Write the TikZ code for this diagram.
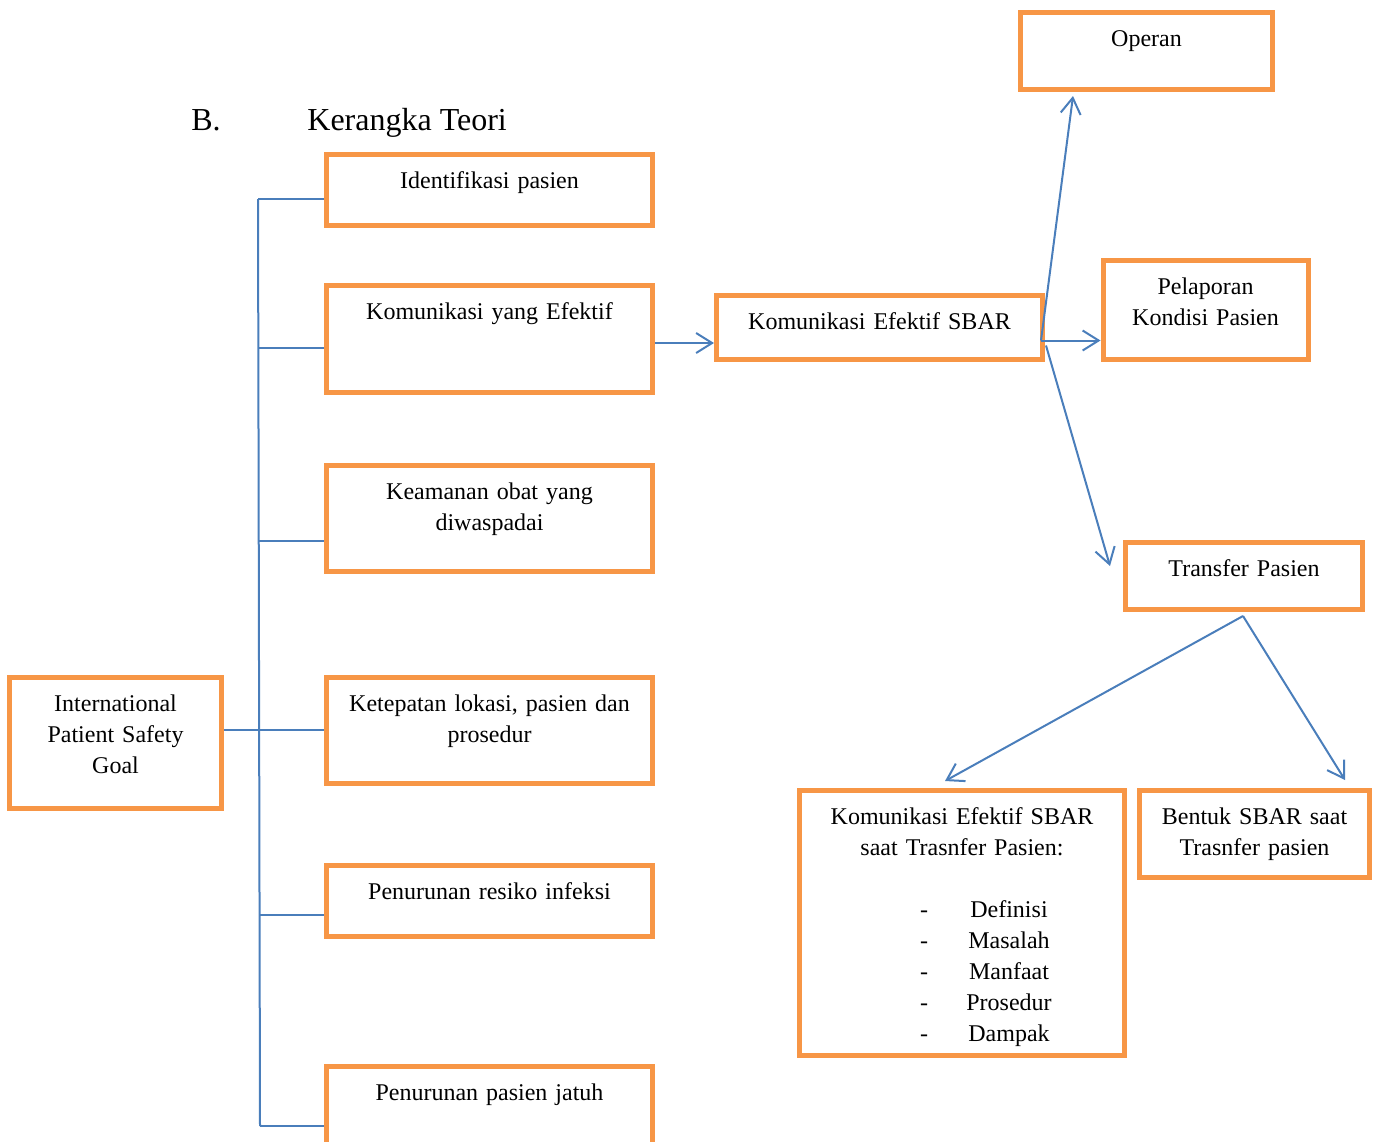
\documentclass[tikz,border=0pt]{standalone}
\usepackage{fontspec}
\setmainfont{Liberation Serif}
\usetikzlibrary{%
  arrows.meta,%
  calc,%
  positioning%
}
\definecolor{boxorange}{HTML}{F79646}
\definecolor{linkblue}{HTML}{4A7EBB}
\newcommand{\sbaritem}[1]{\makebox[0pt]{\hspace*{-38pt}-}\makebox[0pt]{\hspace*{47pt}#1}}

\begin{document}
\begin{tikzpicture}[x=0.5pt,y=-0.5pt]
       \tikzset{box/.style={rectangle, draw=boxorange, line width=2.5pt, inner sep=0pt,
                align=center, text height=17pt, anchor=north,
                font=\fontsize{12}{15.5}\selectfont}}
       \tikzset{heading/.style={anchor=base west, inner sep=0pt, font=\fontsize{16}{19}\selectfont}}
       \tikzset{link/.style={draw=linkblue, line width=1pt}}
       \tikzset{arrow/.style={link, -{Straight Barb[length=8pt,width=10pt]}}}

        \useasboundingbox (0,0) rectangle (1379,1141);
        \clip (0,0) rectangle (1379,1141);

        \node[heading] (secnum) at (191,130) {B.};
        \node[heading] (sectitle) at (307,130) {Kerangka Teori};

        % kolom kiri
        \node[box, text width=163pt, text depth=18.5pt] (ident) at (489.5,152) {Identifikasi pasien};
        \node[box, text width=163pt, text depth=36.5pt] (kye) at (489.5,283) {Komunikasi yang Efektif};
        \node[box, text width=163pt, text depth=36pt] (obat) at (489.5,463) {Keamanan obat yang\\diwaspadai};
        \node[box, text width=163pt, text depth=36pt] (lokasi) at (489.5,675) {Ketepatan lokasi, pasien dan\\prosedur};
        \node[box, text width=163pt, text depth=18.5pt] (infeksi) at (489.5,863) {Penurunan resiko infeksi};
        \node[box, text width=163pt, text depth=36pt] (jatuh) at (489.5,1064) {Penurunan pasien jatuh};
        \node[box, text width=106pt, text depth=48.5pt] (ipsg) at (115.5,675) {International\\Patient Safety\\Goal};

        % kolom kanan
        \node[box, text width=163pt, text depth=15pt] (sbar) at (879.5,293) {Komunikasi Efektif SBAR};
        \node[box, text width=126pt, text depth=21.5pt] (operan) at (1146.5,10) {Operan};
        \node[box, text width=102.5pt, text depth=32.5pt] (lapor) at (1205.5,258) {Pelaporan\\Kondisi Pasien};
        \node[box, text width=118.5pt, text depth=16.5pt] (transfer) at (1244,540) {Transfer Pasien};
        \node[box, text width=162.5pt, text depth=115.5pt] (sbart) at (962,788) {Komunikasi Efektif SBAR\\saat Trasnfer Pasien:\\[15.5pt]\sbaritem{Definisi}\\\sbaritem{Masalah}\\\sbaritem{Manfaat}\\\sbaritem{Prosedur}\\\sbaritem{Dampak}};
        \node[box, text width=115pt, text depth=26.5pt] (bentuk) at (1254.5,788) {Bentuk SBAR saat\\Trasnfer pasien};

        \coordinate (j1) at (258,199);
        \coordinate (j2) at (259,348);
        \coordinate (j3) at (259,541);
        \coordinate (j4) at (259,730);
        \coordinate (j5) at (260,915);
        \coordinate (j6) at (260,1126);

        \draw[link] (j1) -- (j6);
        \draw[link] (j1) -- (j1 -| ident.west);
        \draw[link] (j2) -- (j2 -| kye.west);
        \draw[link] (j3) -- (j3 -| obat.west);
        \draw[link] (ipsg.east |- j4) -- (j4 -| lokasi.west);
        \draw[link] (j5) -- (j5 -| infeksi.west);
        \draw[link] (j6) -- (j6 -| jatuh.west);

        \coordinate (fork) at ($(sbar.east)+(-4,13)$);
        \coordinate (fork2) at ($(sbar.east)+(1,18)$);
        \coordinate (apex) at ($(transfer.south)+(-1,4)$);

        \draw[arrow] ([yshift=-2pt]kye.east) -- ([yshift=-2pt]kye.east -| sbar.west);
        \draw[arrow] (fork) -- ($(operan.south west)+(55,4)$);
        \draw[arrow] (fork) -- (fork -| lapor.west);
        \draw[arrow] (fork2) -- ($(transfer.north west)+(-13,26)$);
        \draw[arrow] (apex) -- ($(sbart.north)+(-17,-7)$);
        \draw[arrow] (apex) -- ($(bentuk.north east)+(-27,-8)$);
   \end{tikzpicture}
\end{document}
